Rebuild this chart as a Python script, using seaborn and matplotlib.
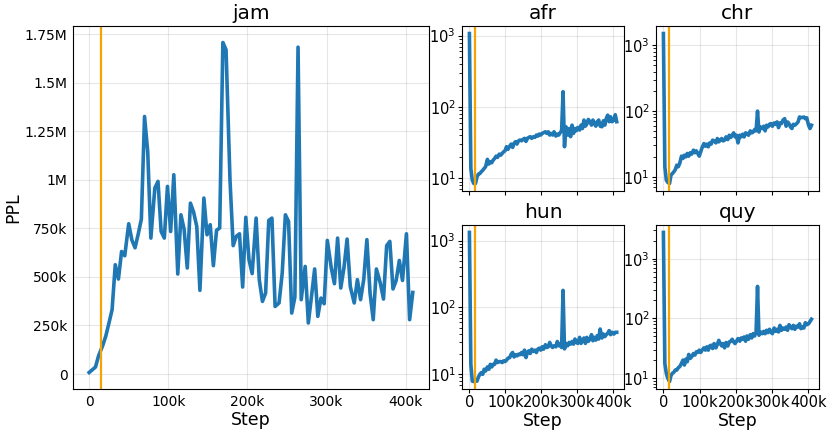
import matplotlib
matplotlib.use("Agg")
import matplotlib.pyplot as plt
import matplotlib.ticker as mticker
import seaborn as sns

# --------------------- DATA ---------------------
# evaluation steps (thousands)
steps_k = [0, 4, 8, 12, 17, 21, 25, 29, 33, 37,
           41, 45, 50, 54, 58, 62, 66, 70, 74, 78,
           83, 87, 91, 95, 99, 103, 107, 112, 116, 120,
           124, 128, 132, 136, 140, 145, 149, 153, 157, 161,
           165, 169, 173, 178, 182, 186, 190, 194, 198, 202,
           206, 211, 215, 219, 223, 227, 231, 235, 240, 244,
           248, 252, 256, 260, 264, 268, 273, 277, 281, 285,
           289, 293, 297, 301, 306, 310, 314, 318, 322, 326,
           330, 335, 339, 343, 347, 351, 355, 359, 363, 368,
           372, 376, 380, 384, 388, 392, 396, 401, 405, 409]

# jam perplexity (thousands)
jam_k = [8, 22, 36, 95, 145, 195, 262, 331, 563, 489,
         631, 609, 774, 690, 650, 720, 798, 1326, 1146, 700,
         957, 992, 734, 700, 966, 734, 1026, 515, 820, 746,
         546, 880, 834, 760, 431, 906, 717, 769, 558, 740,
         752, 1707, 1670, 1000, 661, 709, 722, 448, 807, 589,
         517, 803, 486, 374, 417, 791, 803, 348, 366, 520,
         820, 786, 314, 396, 1683, 383, 554, 263, 400, 541,
         297, 391, 362, 688, 546, 465, 700, 443, 546, 695,
         451, 366, 486, 383, 486, 692, 417, 280, 541, 468,
         386, 661, 683, 438, 482, 585, 482, 722, 280, 420]

afr = [1070, 13.8, 9.5, 8.5, 8.5, 10.5, 11.5, 11.7, 12.4, 13,
       13.8, 14.6, 18.5, 15.9, 17.1, 16.6, 18.1, 19, 20.5, 19.7,
       21.9, 21.2, 22.4, 23.6, 24.4, 27.8, 25.5, 28.4, 30.3, 27.2,
       31, 32.7, 30.3, 33.4, 34.5, 33.7, 35.2, 36.4, 33, 36.4,
       37.6, 38.4, 36.4, 38.4, 37.6, 40.5, 39.2, 41.8, 40.5, 42.7,
       43.7, 45, 42.7, 45, 40.5, 42.7, 40.5, 45, 39.2, 41.8,
       40.5, 43.7, 46.6, 164, 27.8, 53, 40.5, 50, 38.4, 55.8,
       42.7, 50, 46.6, 51.9, 47.6, 55.8, 50, 65.7, 54, 57.7,
       67, 62.3, 55.8, 65.7, 59.1, 54, 62.3, 65.7, 54, 53,
       64.3, 55.8, 69.3, 77, 62.3, 73, 62.3, 65.7, 78, 62.3]

chr_ = [1520, 14.2, 8.9, 8.2, 7.9, 10.6, 11.2, 11.9, 12.9, 15,
        14.2, 15.9, 20.6, 19, 21.3, 20.1, 22.6, 20.6, 23.2, 22.1,
        25.4, 23.2, 24.8, 22.6, 20.6, 24, 27.9, 32, 29.2, 31.4,
        28.6, 32.8, 31.4, 36.1, 35.2, 32.8, 38.2, 34, 36.1, 38.2,
        35.2, 36.1, 40.5, 36.9, 42.9, 39.6, 42.9, 46.6, 40.5, 42.9,
        32.8, 42.9, 40.5, 44.5, 40.5, 46.6, 45.5, 42.9, 50, 46.6,
        48, 52.4, 50, 100, 48, 57.4, 54.3, 58.8, 50, 60.9,
        57.4, 63, 64.5, 58.8, 66, 63, 68.4, 56, 66, 64.5,
        72.5, 76.8, 58.8, 68.4, 64.5, 57.4, 54.3, 63, 60.9, 64.5,
        68.4, 81.4, 79.8, 79.8, 81.4, 76.8, 79, 60.9, 54.3, 60.9]

hun = [1325, 14.1, 7.9, 7.8, 8.1, 7.9, 9.1, 10, 10.6, 10,
       11.9, 11.2, 12.9, 11.9, 14.1, 12.9, 14.1, 14.1, 16.3, 15,
       15.5, 15.5, 15, 15.9, 15.5, 16.3, 17.4, 17.8, 20, 21.2,
       18.2, 19.6, 18.9, 20, 19.6, 21.2, 19.6, 23, 17.8, 21.2,
       22.5, 20.5, 23.8, 22, 23, 21.2, 23.8, 24.6, 23, 25.8,
       23.8, 27.7, 25.2, 25.8, 30, 26.7, 25.2, 26.7, 25.8, 31,
       26.7, 28.3, 25.2, 180, 24, 29, 26.7, 30, 28.3, 31,
       28.3, 33.7, 30, 29, 35.7, 29, 32.5, 34.9, 29, 35.7,
       31, 33.7, 39.2, 31.8, 35.7, 32.5, 37.9, 33.7, 47.6, 34.9,
       40, 36.6, 39.2, 41, 45, 39.2, 42.5, 40, 42.5, 42.5]

quy = [2750, 17.7, 12.1, 10, 8.8, 11.1, 12.1, 12.6, 13.7, 13.7,
       15, 15.6, 17.7, 20.1, 16.6, 20.9, 18.9, 25, 21.4, 22.8,
       25.9, 24.4, 27.7, 27, 29.5, 27, 29.5, 32.2, 29.5, 33.5,
       29.5, 34.7, 35.6, 31.4, 38, 32.2, 36.6, 43, 38, 34.7,
       38, 32.2, 39.5, 34.7, 40.5, 41.6, 44.8, 40.5, 38, 41.6,
       46, 41.6, 47.2, 44.8, 49, 41.6, 50.9, 44.8, 53.4, 47.2,
       55.6, 50.9, 59.4, 344, 52.3, 59.4, 55.6, 60.9, 55.6, 63.3,
       57.9, 65.8, 59.4, 55.6, 69.1, 60.9, 65.8, 59.4, 76.5, 63.3,
       69.1, 65.8, 71.9, 63.3, 78.5, 71.9, 67.4, 76.5, 65.8, 74.6,
       71.9, 81.4, 67.4, 71.9, 69.1, 84.7, 78.5, 81.4, 89, 97]

warmup_step = 15000

steps = [s * 1000 for s in steps_k]
jam = [v * 1000 for v in jam_k]

LINE = '#1f77b4'
VLINE = '#f5a300'


def k_fmt(v, pos):
    if v == 0:
        return '0'
    if abs(v) >= 1e6:
        return f'{v / 1e6:g}M'
    return f'{v / 1e3:g}k'


# --------------------- FIGURE ---------------------
fig = plt.figure(figsize=(8.31, 4.34), dpi=100)

ax_main = fig.add_axes([0.0878, 0.1037, 0.4284, 0.8364])
sns.lineplot(x=steps, y=jam, ax=ax_main, color=LINE, linewidth=2.6)
ax_main.axvline(warmup_step, color=VLINE, linewidth=1.6)
ax_main.set_title('jam', fontsize=14.5, pad=5)
ax_main.set_xlabel('Step', fontsize=12.5, labelpad=2)
ax_main.set_ylabel('PPL', fontsize=12.5, labelpad=1.5)
ax_main.set_yticks([0, 250000, 500000, 750000, 1000000, 1250000, 1500000, 1750000])
ax_main.set_xticks([0, 100000, 200000, 300000, 400000])
ax_main.xaxis.set_major_formatter(mticker.FuncFormatter(k_fmt))
ax_main.yaxis.set_major_formatter(mticker.FuncFormatter(k_fmt))
ax_main.tick_params(labelsize=10, length=0, pad=4)
ax_main.grid(True, alpha=0.3)

small = [('afr', afr, [0.556, 0.560, 0.195, 0.380], False),
         ('chr', chr_, [0.7894, 0.560, 0.196, 0.380], False),
         ('hun', hun, [0.556, 0.1037, 0.195, 0.378], True),
         ('quy', quy, [0.7894, 0.1037, 0.196, 0.378], True)]

for name, vals, rect, bottom in small:
    ax = fig.add_axes(rect)
    sns.lineplot(x=steps, y=vals, ax=ax, color=LINE, linewidth=2.6)
    ax.axvline(warmup_step, color=VLINE, linewidth=1.6)
    ax.set_yscale('log')
    ax.set_title(name, fontsize=14.5, pad=5)
    ax.set_xticks([0, 100000, 200000, 300000, 400000])
    ax.xaxis.set_major_formatter(mticker.FuncFormatter(k_fmt))
    ax.tick_params(labelsize=10.5, length=3, pad=1.5)
    ax.tick_params(which='minor', length=2)
    ax.set_ylabel('')
    if bottom:
        ax.set_xlabel('Step', fontsize=12.5, labelpad=1)
    else:
        ax.set_xlabel('')
        ax.tick_params(labelbottom=False)
    ax.grid(True, alpha=0.3)

plt.savefig('out.png', dpi=100)
plt.close()
